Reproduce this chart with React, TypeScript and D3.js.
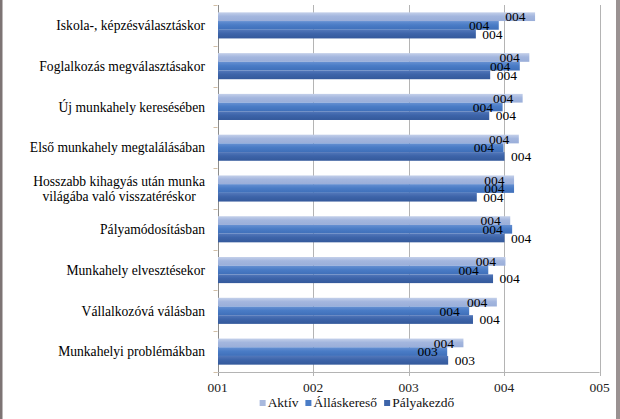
import React, { useEffect, useRef } from 'react';
import * as d3 from 'd3';

const categories = [
  'Iskola-, képzésválasztáskor',
  'Foglalkozás megválasztásakor',
  'Új munkahely keresésében',
  'Első munkahely megtalálásában',
  'Hosszabb kihagyás után munka|világába való visszatéréskor',
  'Pályamódosításban',
  'Munkahely elvesztésekor',
  'Vállalkozóvá válásban',
  'Munkahelyi problémákban',
];
const seriesNames = ['Aktív', 'Álláskereső', 'Pályakezdő'];
const aktiv = [4.32, 4.26, 4.19, 4.15, 4.1, 4.06, 4.01, 3.92, 3.57];
const allaskereso = [3.94, 4.16, 3.98, 3.99, 4.1, 4.08, 3.83, 3.63, 3.4];
const palyakezdo = [3.7, 3.85, 3.84, 4.0, 3.71, 4.0, 3.88, 3.67, 3.41];
const xTicks = [1, 2, 3, 4, 5];

const W = 620;
const H = 419;
const FONT = "'Liberation Serif', 'DejaVu Serif', serif";

export default function App() {
  const ref = useRef<SVGSVGElement | null>(null);

  useEffect(() => {
    const svg = d3.select(ref.current);
    svg.selectAll('*').remove();

    const left = 217.5;
    const right = 599.5;
    const top = 5;
    const bottom = 372;

    const x = d3.scaleLinear().domain([1, 5]).range([left, right]);
    const y0 = d3.scaleBand<string>().domain(categories).range([top, bottom]).paddingInner(0.36).paddingOuter(0.18);
    const y1 = d3.scaleBand<string>().domain(seriesNames).range([0, y0.bandwidth()]);
    const fmt = d3.format('03.0f');
    const values = [aktiv, allaskereso, palyakezdo];

    const defs = svg.append('defs');
    const grads = [
      ['#c4d0ea', '#a3b6de', '#9aaed9'],
      ['#6690d2', '#4a7cc6', '#3f6fb9'],
      ['#5277ba', '#3d64a9', '#34599b'],
    ];
    grads.forEach((g, i) => {
      const lg = defs.append('linearGradient').attr('id', `g${i}`).attr('x1', 0).attr('x2', 0).attr('y1', 0).attr('y2', 1);
      lg.append('stop').attr('offset', '0%').attr('stop-color', g[0]);
      lg.append('stop').attr('offset', '45%').attr('stop-color', g[1]);
      lg.append('stop').attr('offset', '100%').attr('stop-color', g[2]);
    });

    svg.append('rect').attr('width', W).attr('height', H).attr('fill', '#fff');

    // frame
    svg.append('rect').attr('x', 0).attr('y', 0).attr('width', 2.5).attr('height', H).attr('fill', '#7d7474');
    svg.append('rect').attr('x', 616).attr('y', 0).attr('width', 4).attr('height', H).attr('fill', '#9a9292');

    // vertical gridlines
    const grid = svg.append('g');
    xTicks.forEach((t) => {
      const px = Math.round(x(t)) + 0.5;
      grid.append('line').attr('x1', px).attr('x2', px).attr('y1', top).attr('y2', bottom + 4)
        .attr('stroke', t === 1 ? '#8c8c8c' : '#b4b4b4').attr('stroke-width', 1);
    });
    // bottom axis line
    svg.append('line').attr('x1', left).attr('x2', right).attr('y1', bottom + 0.5).attr('y2', bottom + 0.5)
      .attr('stroke', '#b4b4b4');
    // category ticks
    const bounds = categories.map((c) => (y0(c) as number) - y0.step() * y0.paddingInner() / 2).concat([bottom]);
    bounds.forEach((b) => {
      svg.append('line').attr('x1', left - 4).attr('x2', left).attr('y1', Math.round(b) + 0.5).attr('y2', Math.round(b) + 0.5)
        .attr('stroke', '#d2bfa6');
    });

    // bars
    const barsG = svg.append('g');
    categories.forEach((c, ci) => {
      seriesNames.forEach((s, si) => {
        const v = values[si][ci];
        barsG.append('rect')
          .attr('x', x(1) + 0.5)
          .attr('y', (y0(c) as number) + (y1(s) as number))
          .attr('width', x(v) - x(1))
          .attr('height', y1.bandwidth())
          .attr('fill', `url(#g${si})`);
      });
    });

    // labels
    const lab = svg.append('g').style('font-family', FONT).style('font-size', '13.5px').attr('fill', '#000');
    categories.forEach((c, ci) => {
      seriesNames.forEach((s, si) => {
        const v = values[si][ci];
        const yc = (y0(c) as number) + (y1(s) as number) + y1.bandwidth() / 2;
        lab.append('text')
          .attr('x', si === 2 ? x(v) + 7 : x(v) - 9)
          .attr('y', yc)
          .attr('dy', '0.35em')
          .attr('text-anchor', si === 2 ? 'start' : 'end')
          .text(fmt(v));
      });
    });

    // category labels
    const cl = svg.append('g').style('font-family', FONT).style('font-size', '13.6px').attr('fill', '#000');
    categories.forEach((c) => {
      const lines = c.split('|');
      const yc = (y0(c) as number) + y0.bandwidth() / 2;
      if (lines.length === 1) {
        cl.append('text').attr('x', 205).attr('y', yc).attr('dy', '0.35em').attr('text-anchor', 'end').text(c);
      } else {
        const widths: number[] = [];
        const tmp = lines.map((l) => cl.append('text').text(l));
        tmp.forEach((t) => widths.push((t.node() as SVGTextElement).getComputedTextLength()));
        tmp.forEach((t) => t.remove());
        const maxW = Math.max(...widths);
        const cx = 205 - maxW / 2;
        lines.forEach((l, li) => {
          cl.append('text').attr('x', cx).attr('y', yc + (li - (lines.length - 1) / 2) * 15)
            .attr('dy', '0.35em').attr('text-anchor', 'middle').text(l);
        });
      }
    });

    // x tick labels
    const xl = svg.append('g').style('font-family', FONT).style('font-size', '13.5px').attr('fill', '#222');
    xTicks.forEach((t) => {
      xl.append('text').attr('x', x(t)).attr('y', 392).attr('text-anchor', 'middle').text(fmt(t));
    });

    // legend
    const colors = ['#a8b9de', '#4a7cc6', '#3d64a9'];
    const lg = svg.append('g').style('font-family', FONT).style('font-size', '13.5px').attr('fill', '#111');
    const items = seriesNames.map((n) => {
      const t = lg.append('text').text(n);
      const w = (t.node() as SVGTextElement).getComputedTextLength();
      t.remove();
      return { n, w };
    });
    const mark = 6, gapM = 2, gapI = 7;
    const total = d3.sum(items, (d) => mark + gapM + d.w) + gapI * (items.length - 1);
    let lx = 357 - total / 2;
    items.forEach((it, i) => {
      lg.append('rect').attr('x', lx).attr('y', 400).attr('width', mark).attr('height', mark).attr('fill', colors[i]);
      lg.append('text').attr('x', lx + mark + gapM).attr('y', 407).text(it.n);
      lx += mark + gapM + it.w + gapI;
    });
  }, []);

  return (
    <svg
      ref={ref}
      width={W}
      height={H}
      style={{ position: 'absolute', left: 0, top: 0, display: 'block' }}
    />
  );
}
